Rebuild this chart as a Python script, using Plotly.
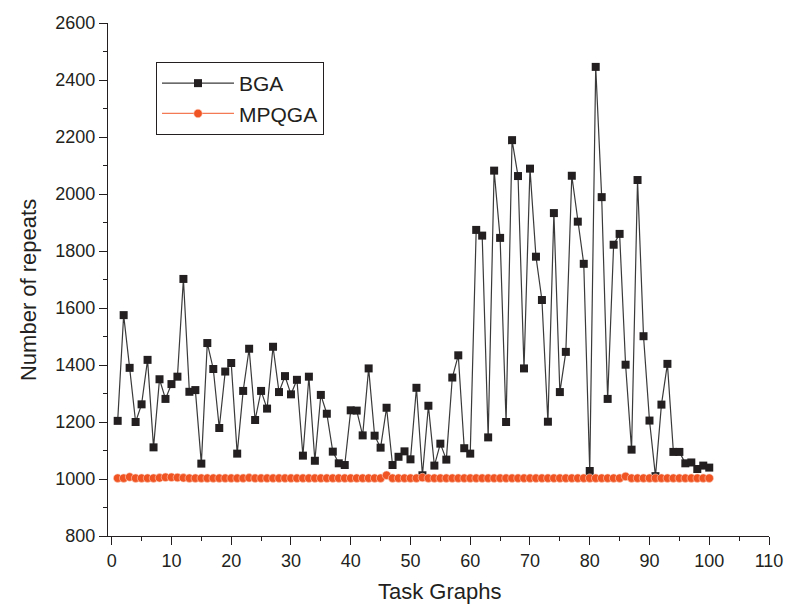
import plotly.graph_objects as go

task_graphs = list(range(1, 101))

bga = [1204, 1575, 1390, 1200, 1262, 1418, 1111, 1350, 1281, 1333,
       1359, 1702, 1306, 1312, 1054, 1477, 1386, 1179, 1377, 1407,
       1089, 1309, 1457, 1207, 1309, 1247, 1464, 1305, 1361, 1297,
       1348, 1082, 1359, 1064, 1295, 1229, 1096, 1055, 1049, 1241,
       1240, 1153, 1388, 1152, 1110, 1250, 1049, 1078, 1097, 1069,
       1320, 1013, 1257, 1047, 1124, 1068, 1356, 1434, 1108, 1089,
       1874, 1854, 1146, 2082, 1846, 1200, 2189, 2063, 1388, 2089,
       1780, 1628, 1201, 1933, 1305, 1446, 2064, 1903, 1755, 1028,
       2446, 1989, 1281, 1822, 1860, 1401, 1103, 2049, 1501, 1205,
       1010, 1261, 1404, 1095, 1095, 1055, 1058, 1035, 1047, 1040]

mpqga = [1003, 1003, 1007, 1003, 1003, 1003, 1003, 1004, 1006, 1006,
         1005, 1004, 1003, 1003, 1003, 1003, 1003, 1003, 1003, 1003,
         1003, 1003, 1004, 1003, 1003, 1003, 1003, 1003, 1003, 1003,
         1003, 1003, 1003, 1003, 1003, 1003, 1003, 1003, 1003, 1003,
         1003, 1003, 1003, 1003, 1003, 1013, 1003, 1003, 1003, 1003,
         1003, 1005, 1003, 1003, 1003, 1003, 1003, 1003, 1003, 1003,
         1003, 1003, 1003, 1003, 1003, 1003, 1003, 1003, 1003, 1003,
         1003, 1003, 1003, 1003, 1003, 1003, 1003, 1003, 1003, 1003,
         1003, 1003, 1003, 1003, 1003, 1009, 1003, 1003, 1003, 1003,
         1003, 1003, 1003, 1003, 1003, 1003, 1003, 1003, 1003, 1003]

FONT = "Liberation Sans, Arial, sans-serif"
AXC = "#231f20"

fig = go.Figure()
fig.add_trace(go.Scatter(
    x=task_graphs, y=bga, name="BGA", mode="lines+markers",
    line=dict(color="#3a3a3a", width=1.2),
    marker=dict(symbol="square", size=8, color="#231f20",
                line=dict(color="#231f20", width=0)),
))
fig.add_trace(go.Scatter(
    x=task_graphs, y=mpqga, name="MPQGA", mode="lines+markers",
    line=dict(color="#f47a55", width=1.2),
    marker=dict(symbol="circle", size=8.5, color="#f05423",
                line=dict(color="#fbd3c3", width=0.6)),
))

fig.update_layout(
    width=786, height=606,
    margin=dict(l=108, r=16.5, t=23, b=70, autoexpand=False),
    paper_bgcolor="white", plot_bgcolor="white",
    font=dict(family=FONT, size=18, color=AXC),
    showlegend=True,
    legend=dict(
        x=0.0726, y=0.924, xanchor="left", yanchor="top",
        bordercolor=AXC, borderwidth=1, bgcolor="white",
        font=dict(family=FONT, size=21, color=AXC),
        itemwidth=72, tracegroupgap=0,
    ),
    xaxis=dict(
        range=[-0.62, 110], tickmode="linear", tick0=0, dtick=10,
        ticks="outside", ticklen=8, tickwidth=1.2, tickcolor=AXC,
        showline=True, linecolor=AXC, linewidth=1.3,
        showgrid=False, zeroline=False, automargin=False,
        ticklabeloverflow="allow",
        minor=dict(dtick=5, tick0=0, ticks="outside", ticklen=4,
                   tickwidth=1.2, tickcolor=AXC, showgrid=False),
        tickfont=dict(family=FONT, size=18, color=AXC),
    ),
    yaxis=dict(
        range=[800, 2600], tickmode="linear", tick0=800, dtick=200,
        ticks="outside", ticklen=8, tickwidth=1.2, tickcolor=AXC,
        showline=True, linecolor=AXC, linewidth=1.3,
        showgrid=False, zeroline=False, automargin=False,
        ticklabeloverflow="allow",
        minor=dict(dtick=100, tick0=800, ticks="outside", ticklen=4,
                   tickwidth=1.2, tickcolor=AXC, showgrid=False),
        tickfont=dict(family=FONT, size=18, color=AXC),
    ),
    annotations=[
        dict(text="Task Graphs", xref="paper", yref="paper",
             x=0.502, y=-0.109, xanchor="center", yanchor="middle",
             showarrow=False, font=dict(family=FONT, size=22, color=AXC)),
        dict(text="Number of repeats", xref="paper", yref="paper",
             x=-0.121, y=0.4795, xanchor="center", yanchor="middle",
             textangle=-90, showarrow=False,
             font=dict(family=FONT, size=22, color=AXC)),
    ],
)

fig.write_html(
    "out.html",
    config={"displayModeBar": False},
    post_script="document.body.style.margin='0';document.body.style.overflow='hidden';",
)
